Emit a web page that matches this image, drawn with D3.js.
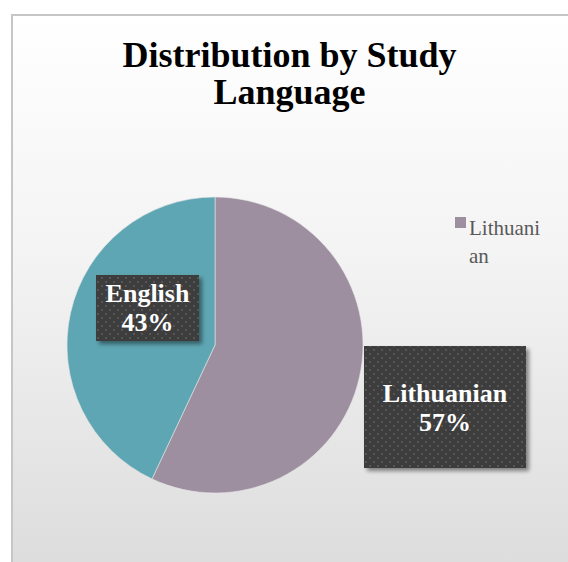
<!DOCTYPE html>
<html>
<head>
<meta charset="utf-8">
<script src="https://cdn.jsdelivr.net/npm/d3@7"></script>
<style>
  html, body { margin: 0; padding: 0; background: #ffffff; }
  svg { display: block; }
</style>
</head>
<body>
<svg id="chart" width="568" height="562"></svg>
<script>
// Study language split (percent of students)
const categories = ["Lithuanian", "English"];
const shares = [57, 43];
const colors = ["#9e8fa0", "#5ea6b3"];
const titleLines = ["Distribution by Study", "Language"];
const legendLines = ["Lithuani", "an"];

const W = 568, H = 562;
const svg = d3.select("#chart");
const defs = svg.append("defs");

// Chart area background: soft white-to-grey fade
const bg = defs.append("linearGradient").attr("id", "bgGrad")
  .attr("x1", 0).attr("y1", 0).attr("x2", 0).attr("y2", 1);
bg.append("stop").attr("offset", "0%").attr("stop-color", "#ffffff");
bg.append("stop").attr("offset", "45%").attr("stop-color", "#f3f3f3");
bg.append("stop").attr("offset", "100%").attr("stop-color", "#dddddd");

// Dotted dark fill for data label boxes
const pat = defs.append("pattern").attr("id", "dots")
  .attr("patternUnits", "userSpaceOnUse").attr("width", 8).attr("height", 8);
pat.append("rect").attr("width", 8).attr("height", 8).attr("fill", "#3e3e3e");
pat.append("rect").attr("x", 1).attr("y", 1).attr("width", 2).attr("height", 2).attr("fill", "#565656");
pat.append("rect").attr("x", 5).attr("y", 5).attr("width", 2).attr("height", 2).attr("fill", "#565656");

const shadow = defs.append("filter").attr("id", "boxShadow")
  .attr("x", "-20%").attr("y", "-20%").attr("width", "150%").attr("height", "150%");
shadow.append("feGaussianBlur").attr("in", "SourceAlpha").attr("stdDeviation", 2.2).attr("result", "b");
shadow.append("feOffset").attr("in", "b").attr("dx", 3).attr("dy", 3).attr("result", "o");
shadow.append("feComponentTransfer").attr("in", "o").attr("result", "s")
  .append("feFuncA").attr("type", "linear").attr("slope", 0.45);
const merge = shadow.append("feMerge");
merge.append("feMergeNode").attr("in", "s");
merge.append("feMergeNode").attr("in", "SourceGraphic");

// Chart area with border on the visible left/top edges
const area = { x: 12, y: 15 };
svg.append("rect").attr("x", area.x).attr("y", area.y)
  .attr("width", W - area.x).attr("height", H - area.y)
  .attr("fill", "url(#bgGrad)");
svg.append("path")
  .attr("d", `M${area.x},${H} V${area.y} H${W}`)
  .attr("fill", "none").attr("stroke", "#c6c6c6").attr("stroke-width", 2);

// Title
const title = svg.append("text")
  .attr("x", 289.5).attr("y", 67)
  .attr("text-anchor", "middle")
  .attr("font-family", "'Liberation Serif', 'Times New Roman', serif")
  .attr("font-weight", "bold").attr("font-size", 36).attr("fill", "#000");
titleLines.forEach((t, i) => {
  title.append("tspan").attr("x", 289.5).attr("dy", i === 0 ? 0 : 37).text(t);
});

// Pie
const cx = 215, cy = 345, R = 148;
const pie = d3.pie().sort(null).value(d => d.value);
const arcs = pie(categories.map((c, i) => ({ name: c, value: shares[i], color: colors[i] })));
const arc = d3.arc().innerRadius(0).outerRadius(R);
const color = d3.scaleOrdinal().domain(categories).range(colors);

const g = svg.append("g").attr("transform", `translate(${cx},${cy})`);
g.selectAll("path.slice").data(arcs).join("path")
  .attr("class", "slice")
  .attr("d", arc)
  .attr("fill", d => color(d.data.name))
  .attr("stroke", "#e6e6e6").attr("stroke-width", 0.6);

// Data labels (boxes placed beside each slice)
const labelBoxes = {
  "Lithuanian": { x: 364, y: 346, w: 162, h: 122, base: 402 },
  "English":    { x: 96,  y: 275, w: 103, h: 66,  base: 302 }
};
arcs.forEach(d => {
  const b = labelBoxes[d.data.name];
  svg.append("rect")
    .attr("x", b.x).attr("y", b.y).attr("width", b.w).attr("height", b.h)
    .attr("fill", "url(#dots)")
    .attr("filter", "url(#boxShadow)");
  const t = svg.append("text")
    .attr("text-anchor", "middle")
    .attr("font-family", "'Liberation Serif', 'Times New Roman', serif")
    .attr("font-weight", "bold").attr("font-size", 26).attr("fill", "#ffffff");
  const mid = b.x + b.w / 2;
  t.append("tspan").attr("x", mid).attr("y", b.base).text(d.data.name);
  t.append("tspan").attr("x", mid).attr("y", b.base + 29).text(d3.format(".0f")(d.data.value) + "%");
});

// Legend (single visible entry, wrapped text)
const lg = svg.append("g");
lg.append("rect").attr("x", 455).attr("y", 217).attr("width", 11).attr("height", 11)
  .attr("fill", color(categories[0]));
const lt = lg.append("text")
  .attr("font-family", "'Liberation Serif', 'Times New Roman', serif")
  .attr("font-size", 21).attr("fill", "#595959");
legendLines.forEach((t, i) => {
  lt.append("tspan").attr("x", 469).attr("y", 235 + i * 28).text(t);
});
</script>
</body>
</html>
